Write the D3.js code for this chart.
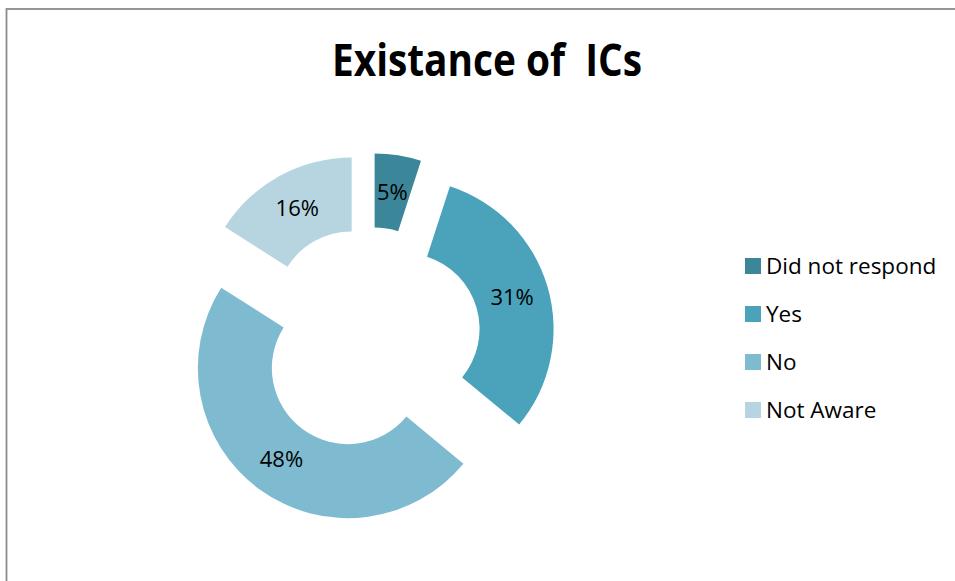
<!DOCTYPE html>
<html>
<head>
<meta charset="utf-8">
<script src="https://cdn.jsdelivr.net/npm/d3@7"></script>
<style>
  body { margin: 0; background: #fff; }
  svg { display: block; }
</style>
</head>
<body>
<svg role="chart"></svg>
<script>
(function(){

  // chart data
  var categories = ['Did not respond', 'Yes', 'No', 'Not Aware'];
  var values = [5, 31, 48, 16];
  var colors = ['#3b8699', '#4aa3bb', '#7fbbd0', '#b7d5e0'];

  var width = 955,
      height = 581;

  var cx = 369,
      cy = 339,
      outerR = 150,
      innerR = 76,
      explode = 36;

  var svg = d3.select('[role="chart"]')
    .attr('width', width)
    .attr('height', height);

  // chart frame (runs off the right and bottom edges)
  svg.append('rect')
    .attr('x', 6.5)
    .attr('y', 9)
    .attr('width', width + 20)
    .attr('height', height + 20)
    .attr('fill', 'none')
    .attr('stroke', '#8c8c8c')
    .attr('stroke-width', 1.8);

  svg.append('text')
    .attr('x', 487)
    .attr('y', 76)
    .attr('text-anchor', 'middle')
    .attr('font-family', 'Open Sans, sans-serif')
    .attr('font-weight', 'bold')
    .attr('font-size', 45)
    .attr('textLength', 310)
    .attr('lengthAdjust', 'spacingAndGlyphs')
    .attr('fill', '#000')
    .style('white-space', 'pre')
    .text('Existance of  ICs');

  var pie = d3.pie()
    .sort(null)
    .value(function(d) { return d; });

  var arc = d3.arc()
    .innerRadius(innerR)
    .outerRadius(outerR);

  var slices = pie(values);

  function offset(d) {
    var mid = (d.startAngle + d.endAngle) / 2;
    return [Math.sin(mid) * explode, -Math.cos(mid) * explode];
  }

  var g = svg.append('g')
    .attr('transform', 'translate(' + cx + ',' + cy + ')');

  var parts = g.selectAll('g.slice')
    .data(slices)
    .enter()
    .append('g')
    .attr('class', 'slice')
    .attr('transform', function(d) {
      var o = offset(d);
      return 'translate(' + o[0] + ',' + o[1] + ')';
    });

  parts.append('path')
    .attr('d', arc)
    .attr('fill', function(d, i) { return colors[i]; });

  parts.append('text')
    .attr('transform', function(d) {
      var c = arc.centroid(d);
      return 'translate(' + c[0] + ',' + c[1] + ')';
    })
    .attr('dy', '0.35em')
    .attr('text-anchor', 'middle')
    .attr('font-family', 'Open Sans, sans-serif')
    .attr('font-size', 22)
    .attr('fill', '#000')
    .text(function(d) { return d.data + '%'; });

  // legend
  var legend = svg.append('g')
    .attr('transform', 'translate(745, 266)');

  var items = legend.selectAll('g')
    .data(categories)
    .enter()
    .append('g')
    .attr('transform', function(d, i) {
      return 'translate(0,' + i * 48 + ')';
    });

  items.append('rect')
    .attr('x', 0)
    .attr('y', -8)
    .attr('width', 16)
    .attr('height', 16)
    .attr('fill', function(d, i) { return colors[i]; });

  items.append('text')
    .attr('x', 21)
    .attr('y', 0)
    .attr('dy', '0.35em')
    .attr('font-family', 'Open Sans, sans-serif')
    .attr('font-size', 22.5)
    .attr('fill', '#000')
    .text(function(d) { return d; });

})();
</script>
</body>
</html>
